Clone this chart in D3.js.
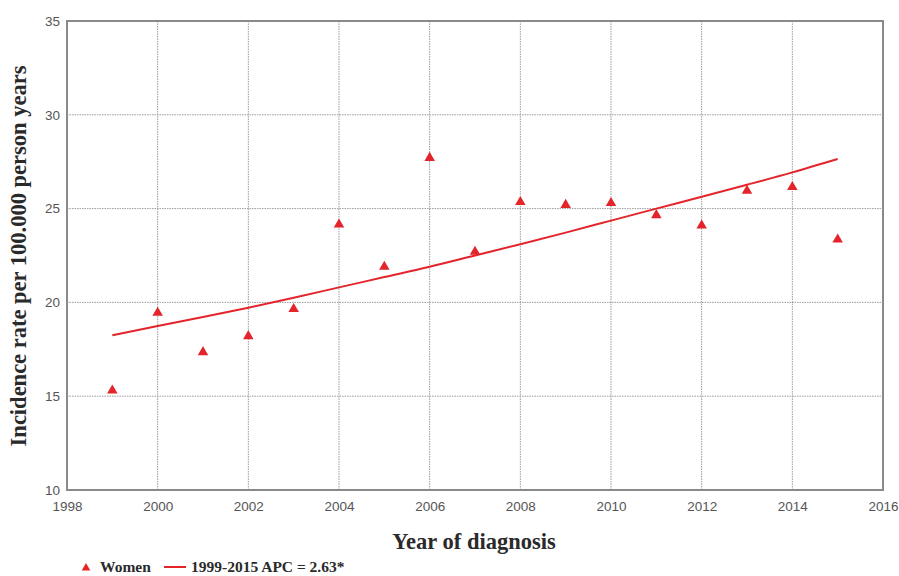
<!DOCTYPE html>
<html><head><meta charset="utf-8">
<script src="https://cdn.jsdelivr.net/npm/d3@7"></script>
<style>body{margin:0;background:#fff;}svg{display:block;}</style>
</head><body>
<svg id="c" width="899" height="576"></svg>
<script>
const years = [1999,2000,2001,2002,2003,2004,2005,2006,2007,2008,2009,2010,2011,2012,2013,2014,2015];
const women = [15.3,19.45,17.35,18.2,19.65,24.15,21.9,27.7,22.7,25.35,25.2,25.3,24.65,24.1,25.95,26.15,23.35];
const trend = [18.25,18.74,19.22,19.72,20.25,20.8,21.35,21.9,22.5,23.1,23.72,24.36,25.0,25.63,26.27,26.93,27.64];
const xTicks = [1998,2000,2002,2004,2006,2008,2010,2012,2014,2016];
const yTicks = [10,15,20,25,30,35];
const yTitle = "Incidence rate per 100.000 person years";
const xTitle = "Year of diagnosis";
const legendSeries = "Women";
const legendTrend = "1999-2015 APC = 2.63*";

const svg = d3.select("#c");
const L=67, R=883, T=21, B=490;
const x = d3.scaleLinear().domain([1998,2016]).range([L,R]);
const y = d3.scaleLinear().domain([10,35]).range([B,T]);
const red = "#e3242b";
const serif = "Liberation Serif, Times New Roman, serif";
const sans = "Liberation Sans, Arial, sans-serif";

// gridlines
const g = svg.append("g");
g.selectAll(".vg").data(xTicks.slice(1,-1)).enter().append("line")
  .attr("x1",d=>x(d)).attr("x2",d=>x(d)).attr("y1",T).attr("y2",B)
  .attr("stroke","#9a9a9a").attr("stroke-width",1).attr("stroke-dasharray","1.5,1");
g.selectAll(".hg").data(yTicks.slice(1,-1)).enter().append("line")
  .attr("y1",d=>y(d)).attr("y2",d=>y(d)).attr("x1",L).attr("x2",R)
  .attr("stroke","#9a9a9a").attr("stroke-width",1).attr("stroke-dasharray","1.5,1");

// frame
svg.append("rect").attr("x",L).attr("y",T).attr("width",R-L).attr("height",B-T)
  .attr("fill","none").attr("stroke","#8a8a8a").attr("stroke-width",2);

// axes labels
const xa = svg.append("g").attr("transform",`translate(0,${B})`)
  .call(d3.axisBottom(x).tickValues(xTicks).tickFormat(d3.format("d")).tickSize(0).tickPadding(11));
xa.select(".domain").remove();
xa.selectAll("text").attr("font-family",sans).attr("font-size",13.5).attr("fill","#555");
const ya = svg.append("g").attr("transform",`translate(${L},0)`)
  .call(d3.axisLeft(y).tickValues(yTicks).tickSize(0).tickPadding(7));
ya.select(".domain").remove();
ya.selectAll("text").attr("font-family",sans).attr("font-size",13.5).attr("fill","#555");

// trend line
svg.append("path").datum(years.map((d,i)=>[d,trend[i]]))
  .attr("d", d3.line().x(d=>x(d[0])).y(d=>y(d[1])).curve(d3.curveMonotoneX))
  .attr("fill","none").attr("stroke",red).attr("stroke-width",2);

// points
const tri = d3.symbol().type(d3.symbolTriangle).size(48);
svg.selectAll(".pt").data(years).enter().append("path")
  .attr("d",tri).attr("transform",(d,i)=>`translate(${x(d)},${y(women[i])})`)
  .attr("fill",red);

// titles
svg.append("text").attr("transform",`translate(26,256) rotate(-90)`)
  .attr("text-anchor","middle").attr("font-family",serif)
  .attr("font-weight","bold").attr("font-size",22.5).attr("fill","#2a2a2a").text(yTitle);
svg.append("text").attr("x",474).attr("y",549).attr("text-anchor","middle")
  .attr("font-family",serif)
  .attr("font-weight","bold").attr("font-size",22.5).attr("fill","#2a2a2a").text(xTitle);

// legend
const lg = svg.append("g");
lg.append("path").attr("d",d3.symbol().type(d3.symbolTriangle).size(32)).attr("transform","translate(86,568)").attr("fill",red);
lg.append("text").attr("x",100).attr("y",572).attr("font-family",serif)
  .attr("font-weight","bold").attr("font-size",15.5).attr("fill","#2a2a2a").text(legendSeries);
lg.append("line").attr("x1",164).attr("x2",186).attr("y1",567).attr("y2",567).attr("stroke",red).attr("stroke-width",2);
lg.append("text").attr("x",191).attr("y",572).attr("font-family",serif)
  .attr("font-weight","bold").attr("font-size",15.5).attr("fill","#2a2a2a").text(legendTrend);
</script>
</body></html>
